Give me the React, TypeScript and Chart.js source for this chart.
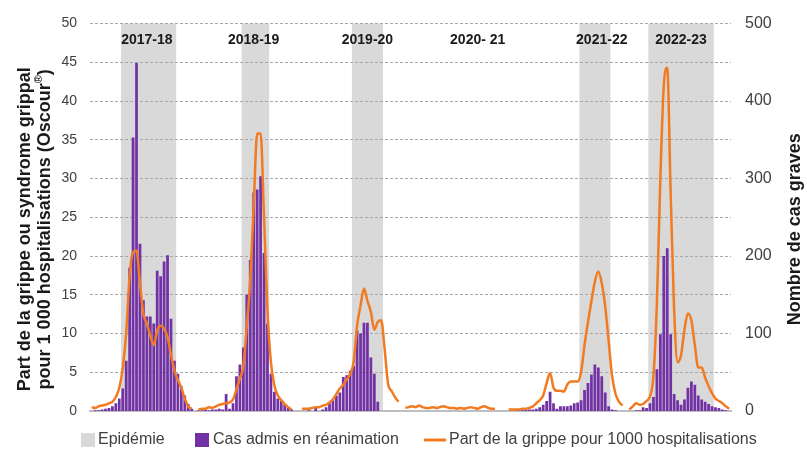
import React, { useEffect, useRef } from 'react';
import { Chart, registerables } from 'chart.js';

Chart.register(...registerables);

// ---- Data -----------------------------------------------------------------
const SEASONS = ['2017-18', '2018-19', '2019-20', '2020- 21', '2021-22', '2022-23'];

// Part de la grippe pour 1000 hospitalisations (left axis), one value per week
const LINE_2017_18 = [0.5, 0.4, 0.6, 0.7, 0.8, 1.0, 1.2, 1.8, 3.0, 5.5, 10, 17.5, 20.5, 20.7, 16.5, 12.5, 11.3, 9.7, 8.5, 10.4, 11.0, 10.6, 9.5, 7.3, 5.2, 4.0, 3.0, 1.6, 0.6, 0.3];
const LINE_2018_19 = [0.2, 0.3, 0.3, 0.5, 0.4, 0.6, 0.8, 0.9, 1.0, 1.1, 1.5, 2.8, 4.2, 5.8, 11, 17, 26.5, 35.8, 35.8, 25, 13, 6.3, 3.3, 2.0, 1.4, 0.9, 0.5, 0.2];
const LINE_2019_20 = [0.3, 0.3, 0.3, 0.4, 0.5, 0.5, 0.7, 0.8, 1.1, 1.5, 2.2, 2.9, 3.4, 4.1, 4.8, 6.3, 11, 13.6, 15.8, 14.2, 12.8, 10.5, 11.5, 11.7, 8, 3.5, 2.6, 1.8, 1.2];
const LINE_2020_21 = [0.4, 0.5, 0.6, 0.5, 0.7, 0.5, 0.4, 0.4, 0.5, 0.4, 0.5, 0.6, 0.5, 0.4, 0.4, 0.3, 0.4, 0.3, 0.4, 0.5, 0.4, 0.3, 0.5, 0.6, 0.4, 0.3, 0.3];
const LINE_2021_22 = [0.2, 0.2, 0.2, 0.2, 0.3, 0.3, 0.4, 0.6, 1.0, 1.4, 2.0, 3.6, 4.9, 3.0, 2.6, 2.6, 2.5, 3.4, 3.8, 3.8, 3.8, 5.0, 8.5, 11.5, 14.2, 16.7, 18.0, 16.5, 13.5, 9, 4.5, 2.2, 1.2, 0.7];
const LINE_2022_23 = [0.2, 0.6, 1.0, 0.8, 0.9, 1.3, 1.9, 4.5, 14, 30, 42, 44.3, 28, 13, 6.3, 7.2, 10.5, 12.6, 11.7, 8.5, 5.6, 5.6, 4.3, 3.2, 2.3, 1.6, 1.3, 1.0, 0.6, 0.3];

// Cas admis en réanimation (right axis), one value per week
const BARS_2017_18 = [0, 1, 1, 2, 3, 4, 6, 10, 16, 29, 65, 185, 353, 449, 216, 143, 122, 122, 113, 181, 174, 193, 201, 119, 65, 48, 32, 20, 9, 3];
const BARS_2018_19 = [1, 1, 2, 1, 2, 2, 3, 2, 22, 3, 10, 45, 60, 82, 150, 195, 282, 286, 303, 204, 113, 48, 25, 16, 13, 8, 4, 2];
const BARS_2019_20 = [0, 0, 1, 0, 4, 0, 2, 5, 10, 14, 20, 24, 44, 46, 52, 58, 104, 100, 114, 114, 69, 48, 12, 0, 0, 0, 0, 0, 0];
const BARS_2020_21: number[] = [];
const BARS_2021_22 = [0, 0, 1, 1, 1, 2, 2, 2, 3, 5, 8, 13, 25, 10, 3, 6, 6, 6, 7, 10, 11, 14, 27, 36, 47, 60, 56, 45, 24, 6, 2, 1, 0, 0];
const BARS_2022_23 = [0, 0, 1, 1, 5, 4, 10, 18, 54, 99, 200, 210, 99, 22, 14, 8, 15, 30, 38, 34, 20, 15, 12, 9, 6, 5, 4, 2, 1, 0];

// Empty weeks between consecutive seasons
const GAPS_AFTER = [1, 2, 1, 3, 1];

// Epidemic periods (category indices, inclusive) and season label positions
const EPI_START: (number | null)[] = [9, 44, 76, null, 142, 162];
const EPI_END: (number | null)[] = [24, 51, 84, null, 150, 180];
const LABEL_AT = [16, 47, 80, 112, 148, 171];

const LEFT_MAX = 50;
const LEFT_STEP = 5;
const RIGHT_MAX = 500;
const RIGHT_STEP = 100;

const LEFT_TITLE_1 = 'Part de la grippe ou syndrome grippal';
const LEFT_TITLE_2 = 'pour 1 000 hospitalisations (Oscour';
const LEFT_TITLE_SUP = '®';
const LEFT_TITLE_END = ')';
const RIGHT_TITLE = 'Nombre de cas graves';
const LEGEND_EPI = 'Epidémie';
const LEGEND_BARS = 'Cas admis en réanimation';
const LEGEND_LINE = 'Part de la grippe pour 1000 hospitalisations';

// ---- Build table ------------------------------------------------------------
const LINE_SEASONS = [LINE_2017_18, LINE_2018_19, LINE_2019_20, LINE_2020_21, LINE_2021_22, LINE_2022_23];
const BAR_SEASONS = [BARS_2017_18, BARS_2018_19, BARS_2019_20, BARS_2020_21, BARS_2021_22, BARS_2022_23];

const labels: string[] = [];
const lineData: (number | null)[] = [];
const barData: (number | null)[] = [];
SEASONS.forEach((s, k) => {
  LINE_SEASONS[k].forEach((v, j) => {
    labels.push(`${s} S${j + 1}`);
    lineData.push(v);
    const b = BAR_SEASONS[k][j];
    barData.push(b === undefined || b === 0 ? null : b);
  });
  if (k < GAPS_AFTER.length) {
    for (let g = 0; g < GAPS_AFTER[k]; g++) {
      labels.push('');
      lineData.push(null);
      barData.push(null);
    }
  }
});

const FONT = '"Liberation Sans", Arial, Helvetica, sans-serif';
const ORANGE = '#f27a21';
const PURPLE = '#7232a6';
const GREY_BAND = '#d9d9d9';
const TEXT = '#404040';
const DARK = '#1a1a1a';

const decor = {
  id: 'decor',
  beforeDraw(chart: any) {
    const { ctx, chartArea: a, scales } = chart;
    const x = scales.x;
    const w = x.getPixelForValue(1) - x.getPixelForValue(0);
    ctx.save();
    ctx.fillStyle = GREY_BAND;
    EPI_START.forEach((s, k) => {
      const e = EPI_END[k];
      if (s == null || e == null) return;
      const x0 = x.getPixelForValue(s) - w / 2;
      const x1 = x.getPixelForValue(e) + w / 2;
      ctx.fillRect(x0, a.top, x1 - x0, a.bottom - a.top);
    });
    ctx.fillStyle = DARK;
    ctx.font = `bold 14px ${FONT}`;
    ctx.textAlign = 'center';
    ctx.textBaseline = 'middle';
    SEASONS.forEach((s, k) => {
      ctx.fillText(s, x.getPixelForValue(LABEL_AT[k]), a.top + 17);
    });
    ctx.restore();
  },
  afterDraw(chart: any) {
    const { ctx, chartArea: a } = chart;
    const cy = (a.top + a.bottom) / 2 + 12;
    ctx.save();
    ctx.fillStyle = DARK;
    ctx.font = `bold 18px ${FONT}`;
    ctx.textBaseline = 'middle';
    ctx.textAlign = 'center';
    // left title line 1
    ctx.save();
    ctx.translate(25, cy);
    ctx.rotate(-Math.PI / 2);
    ctx.fillText(LEFT_TITLE_1, 0, 0);
    ctx.restore();
    // left title line 2 with superscript
    ctx.save();
    ctx.translate(45, cy);
    ctx.rotate(-Math.PI / 2);
    ctx.textAlign = 'left';
    const mainFont = `bold 18px ${FONT}`;
    const supFont = `bold 11px ${FONT}`;
    ctx.font = mainFont;
    const w1 = ctx.measureText(LEFT_TITLE_2).width;
    const w3 = ctx.measureText(LEFT_TITLE_END).width;
    ctx.font = supFont;
    const w2 = ctx.measureText(LEFT_TITLE_SUP).width;
    let px = -(w1 + w2 + w3) / 2;
    ctx.font = mainFont;
    ctx.fillText(LEFT_TITLE_2, px, 0);
    px += w1;
    ctx.font = supFont;
    ctx.fillText(LEFT_TITLE_SUP, px, -6);
    px += w2;
    ctx.font = mainFont;
    ctx.fillText(LEFT_TITLE_END, px, 0);
    ctx.restore();
    // right title
    ctx.save();
    ctx.translate(795, cy);
    ctx.rotate(-Math.PI / 2);
    ctx.fillText(RIGHT_TITLE, 0, 0);
    ctx.restore();

    // legend
    const ly = 440;
    ctx.font = `16px ${FONT}`;
    ctx.fillStyle = TEXT;
    ctx.textAlign = 'left';
    ctx.fillStyle = GREY_BAND;
    ctx.fillRect(81, ly - 7, 14, 14);
    ctx.fillStyle = TEXT;
    ctx.fillText(LEGEND_EPI, 98, ly);
    ctx.fillStyle = PURPLE;
    ctx.fillRect(195, ly - 7, 14, 14);
    ctx.fillStyle = TEXT;
    ctx.fillText(LEGEND_BARS, 213, ly);
    ctx.strokeStyle = ORANGE;
    ctx.lineWidth = 3;
    ctx.beginPath();
    ctx.moveTo(424, ly);
    ctx.lineTo(446, ly);
    ctx.stroke();
    ctx.fillText(LEGEND_LINE, 449, ly);
    ctx.restore();
  },
};

export default function App() {
  const ref = useRef<HTMLCanvasElement | null>(null);
  useEffect(() => {
    if (!ref.current) return;
    const chart = new Chart(ref.current, {
      type: 'bar',
      data: {
        labels,
        datasets: [
          {
            type: 'line',
            label: LEGEND_LINE,
            data: lineData,
            yAxisID: 'y',
            borderColor: ORANGE,
            backgroundColor: ORANGE,
            borderWidth: 2.5,
            pointRadius: 0,
            cubicInterpolationMode: 'monotone',
            spanGaps: false,
            order: 0,
          } as any,
          {
            type: 'bar',
            label: LEGEND_BARS,
            data: barData,
            yAxisID: 'y1',
            backgroundColor: PURPLE,
            borderWidth: 0,
            barPercentage: 0.8,
            categoryPercentage: 1,
            order: 1,
          } as any,
        ],
      },
      options: {
        animation: false,
        responsive: false,
        devicePixelRatio: 1,
        layout: { padding: { top: 16, left: 0, right: 0, bottom: 0 } },
        plugins: { legend: { display: false }, tooltip: { enabled: false } },
        scales: {
          x: {
            type: 'category',
            offset: true,
            grid: { display: false },
            ticks: { display: false },
            border: { display: true, color: '#bfbfbf', width: 2 },
            afterFit: (s: any) => { s.height = 40; },
          },
          y: {
            position: 'left',
            min: 0,
            max: LEFT_MAX,
            ticks: { stepSize: LEFT_STEP, color: TEXT, font: { family: FONT, size: 14 }, padding: 13 },
            grid: { color: '#a8a8a8', lineWidth: 1, drawTicks: false },
            border: { display: false, dash: [3, 2] },
            afterFit: (s: any) => { s.width = 90; },
          },
          y1: {
            position: 'right',
            min: 0,
            max: RIGHT_MAX,
            ticks: { stepSize: RIGHT_STEP, color: TEXT, font: { family: FONT, size: 16 }, padding: 14 },
            grid: { display: false, drawTicks: false },
            border: { display: false },
            afterFit: (s: any) => { s.width = 76; },
          },
        },
      } as any,
      plugins: [decor],
    });
    return () => chart.destroy();
  }, []);
  return (
    <div style={{ position: 'fixed', left: 0, top: 0, width: 807, height: 451, background: '#fff' }}>
      <canvas ref={ref} width={807} height={451} style={{ display: 'block' }} />
    </div>
  );
}
